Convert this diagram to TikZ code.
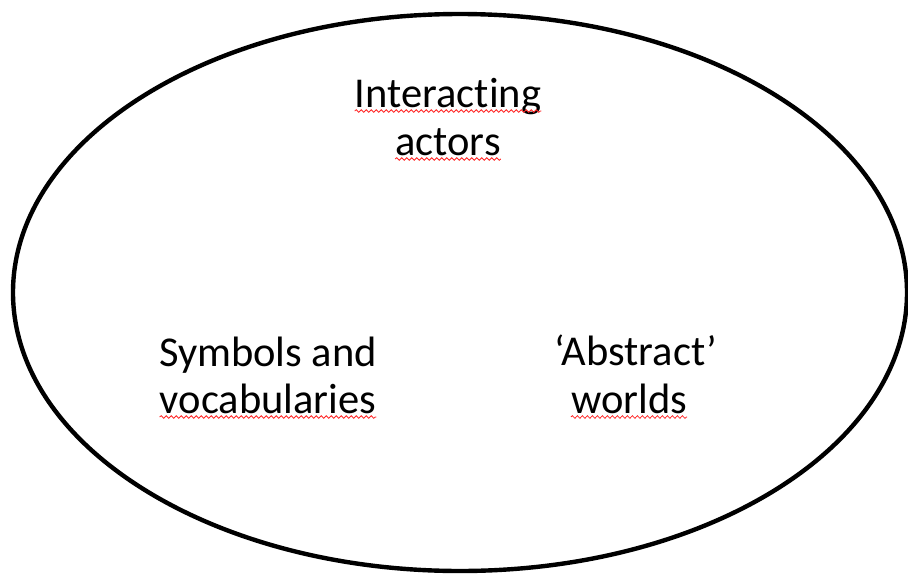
\documentclass[tikz,border=0pt]{standalone}
\usepackage{fontspec}
\setmainfont[Ligatures=NoCommon]{Carlito}
\usetikzlibrary{decorations.pathmorphing}
\tikzset{
  lbl/.style={inner sep=0pt, anchor=base, font=\fontsize{42.5}{50}\selectfont},
  squig/.style={draw=red!85, line width=0.8pt, decorate,
    decoration={snake, amplitude=1.3pt, segment length=5pt}},
  oval/.style={draw=black, line width=4.4pt}
}
\begin{document}
\begin{tikzpicture}[x=1pt,y=-1pt]
\useasboundingbox (0,0) rectangle (908,576);
\draw[oval] (460,292.5) ellipse [x radius=447, y radius=278.5];
\node[lbl] (l1) at (448,107) {Interacting};
\node[lbl] (l2) at (448,155) {actors};
\node[lbl] (l3) at (268,366) {Symbols and};
\node[lbl] (l4) at (268,413) {vocabularies};
\node[lbl] (l5) at (636,365) {‘Abstract’};
\node[lbl] (l6) at (629,413) {worlds};
\foreach \n in {l1,l2,l4,l6}{
  \draw[squig] ([yshift=-4pt]\n.base west) -- ([yshift=-4pt]\n.base east);
}
\end{tikzpicture}
\end{document}
